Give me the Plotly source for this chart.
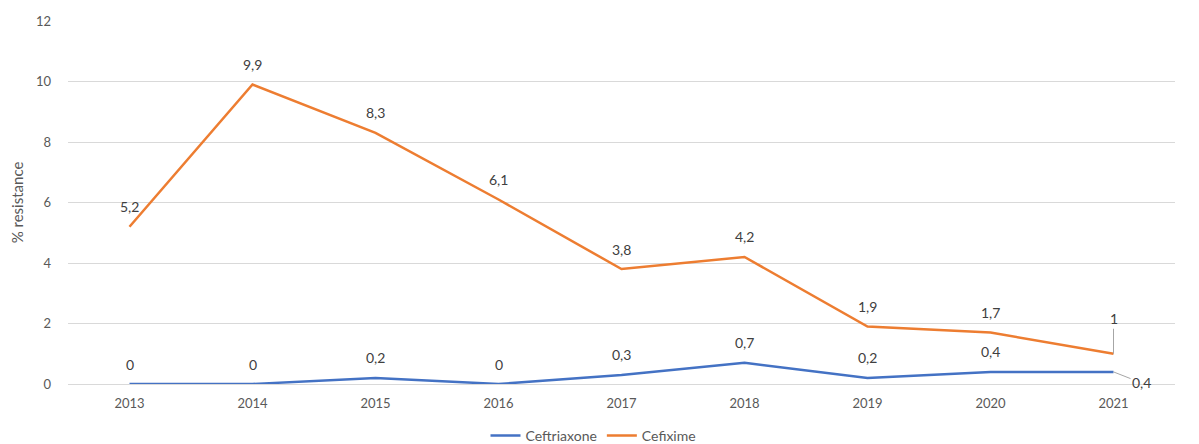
import plotly.graph_objects as go

years = ["2013", "2014", "2015", "2016", "2017", "2018", "2019", "2020", "2021"]
ceftriaxone = [0, 0, 0.2, 0, 0.3, 0.7, 0.2, 0.4, 0.4]
cefixime = [5.2, 9.9, 8.3, 6.1, 3.8, 4.2, 1.9, 1.7, 1.0]
y_ticks = [0, 2, 4, 6, 8, 10, 12]

BLUE = "#4472C4"
ORANGE = "#ED7D31"
TXT = "#404040"
AX = "#595959"
GRID = "#D9D9D9"
FONT = "Lato, Open Sans, sans-serif"

xpos = list(range(len(years)))


def fmt(v):
    return ("%g" % v).replace(".", ",")


fig = go.Figure()
fig.add_trace(go.Scatter(x=xpos, y=ceftriaxone, mode="lines", name="Ceftriaxone",
                         line=dict(color=BLUE, width=2.5)))
fig.add_trace(go.Scatter(x=xpos, y=cefixime, mode="lines", name="Cefixime",
                         line=dict(color=ORANGE, width=2.5)))

annotations = []
last = len(years) - 1
for series in (ceftriaxone, cefixime):
    for i, v in zip(xpos, series):
        if i == last:
            continue
        annotations.append(dict(x=i, y=v, xref="x", yref="y", text=fmt(v), showarrow=False,
                                yshift=20, xanchor="center", yanchor="middle",
                                font=dict(family=FONT, size=14, color=TXT)))

# last points with leader lines
annotations.append(dict(x=xpos[last], y=cefixime[last], xref="x", yref="y",
                        text=fmt(cefixime[last]),
                        showarrow=True, arrowhead=0, arrowwidth=1, arrowcolor="#A6A6A6",
                        ax=0, ay=-35, standoff=0,
                        font=dict(family=FONT, size=14, color=TXT)))
annotations.append(dict(x=xpos[last], y=ceftriaxone[last], xref="x", yref="y",
                        text=fmt(ceftriaxone[last]),
                        showarrow=True, arrowhead=0, arrowwidth=1, arrowcolor="#A6A6A6",
                        ax=28, ay=11, standoff=0,
                        font=dict(family=FONT, size=14, color=TXT)))

fig.update_layout(
    width=1199, height=444,
    margin=dict(l=68, r=24, t=21, b=60, autoexpand=False),
    plot_bgcolor="white", paper_bgcolor="white",
    font=dict(family=FONT, size=13, color=AX),
    showlegend=True,
    legend=dict(orientation="h", x=0.495, xanchor="center", xref="container",
                y=0.018, yanchor="middle", yref="container",
                font=dict(family=FONT, size=14, color=AX), itemwidth=30),
    annotations=annotations,
    xaxis=dict(range=[-0.5, 8.5], tickvals=xpos, ticktext=years, showgrid=False,
               showline=False, zeroline=False, ticks="", automargin=False,
               tickfont=dict(family=FONT, size=13, color=AX), ticklabelstandoff=10),
    yaxis=dict(range=[0, 12], tickvals=y_ticks, ticktext=[str(t) for t in y_ticks],
               showgrid=True, gridcolor=GRID, gridwidth=1, zeroline=True,
               zerolinecolor=GRID, zerolinewidth=1, showline=False, ticks="",
               automargin=False,
               tickfont=dict(family=FONT, size=13, color=AX), ticklabelstandoff=16,
               title=dict(text="% resistance", font=dict(family=FONT, size=15, color=AX),
                          standoff=8)),
)

fig.write_html("out.html")
